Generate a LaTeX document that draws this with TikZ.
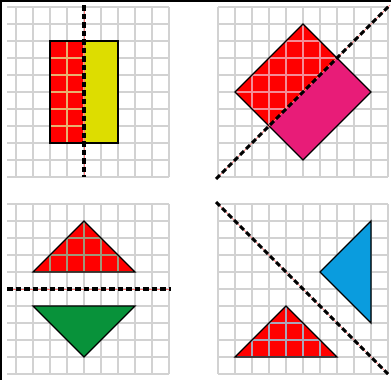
\documentclass[tikz,border=0pt]{standalone}
\definecolor{gridgray}{RGB}{210,210,210}
\definecolor{shred}{RGB}{255,0,0}
\definecolor{shyellow}{RGB}{221,221,0}
\definecolor{shpink}{RGB}{232,28,120}
\definecolor{shgreen}{RGB}{8,146,58}
\definecolor{shblue}{RGB}{10,156,222}
\definecolor{tintA}{RGB}{232,176,112}
\definecolor{tintB}{RGB}{244,140,150}
\definecolor{tintC}{RGB}{160,150,120}
\definecolor{tintD}{RGB}{170,165,185}
\begin{document}
\begin{tikzpicture}[x=1pt,y=-1pt,
  gridln/.style={draw=gridgray, line width=1.1pt},
  outl/.style={draw=black, line width=1.2pt, line join=miter},
  mirrorbase/.style={draw=red!55, line width=0.7pt},
  mirror/.style={draw=black, line width=3.1pt, dash pattern=on 5.5pt off 3pt}]
\useasboundingbox (0,0) rectangle (391,380);
\fill[white] (0,0) rectangle (391,380);
% ---------- grids ----------
\foreach \x in {16,33,...,169} \draw[gridln] (\x,7) -- (\x,177);
\foreach \y in {7,24,...,177} \draw[gridln] (7,\y) -- (169,\y);
\foreach \x in {218,235,...,388} \draw[gridln] (\x,7) -- (\x,177);
\foreach \y in {7,24,...,177} \draw[gridln] (218,\y) -- (388,\y);
\foreach \x in {16,33,...,169} \draw[gridln] (\x,204) -- (\x,374);
\foreach \y in {204,221,...,374} \draw[gridln] (7,\y) -- (169,\y);
\foreach \x in {218,235,...,388} \draw[gridln] (\x,204) -- (\x,374);
\foreach \y in {204,221,...,374} \draw[gridln] (218,\y) -- (388,\y);
% ---------- top left ----------
\fill[shred] (50,41) rectangle (84,143);
\begin{scope}
  \clip (50,41) rectangle (84,143);
  \foreach \x in {16,33,...,169} \draw[tintA, line width=1.1pt] (\x,7) -- (\x,177);
  \foreach \y in {7,24,...,177} \draw[tintA, line width=1.1pt] (7,\y) -- (169,\y);
\end{scope}
\fill[shyellow] (84,41) rectangle (118,143);
\draw[outl] (50,41) rectangle (118,143);
\coordinate (m1a) at (84,5);
\coordinate (m1b) at (84,177);
\draw[mirrorbase] (m1a) -- (m1b);
\draw[mirror] (m1a) -- (m1b);
% ---------- top right ----------
\fill[shred] (303,24) -- (235,92) -- (269,126) -- (337,58) -- cycle;
\begin{scope}
  \clip (303,24) -- (235,92) -- (269,126) -- (337,58) -- cycle;
  \foreach \x in {218,235,...,388} \draw[tintB, line width=1.1pt] (\x,7) -- (\x,177);
  \foreach \y in {7,24,...,177} \draw[tintB, line width=1.1pt] (218,\y) -- (388,\y);
\end{scope}
\fill[shpink] (337,58) -- (371,92) -- (303,160) -- (269,126) -- cycle;
\draw[outl] (303,24) -- (235,92) -- (303,160) -- (371,92) -- cycle;
\coordinate (m2a) at (216,179);
\coordinate (m2b) at (390,5);
\draw[mirrorbase] (m2a) -- (m2b);
\draw[mirror] (m2a) -- (m2b);
% ---------- bottom left ----------
\fill[shred] (84,221) -- (33,272) -- (135,272) -- cycle;
\begin{scope}
  \clip (84,221) -- (33,272) -- (135,272) -- cycle;
  \foreach \x in {16,33,...,169} \draw[tintC, line width=1.1pt] (\x,204) -- (\x,374);
  \foreach \y in {204,221,...,374} \draw[tintC, line width=1.1pt] (7,\y) -- (169,\y);
\end{scope}
\draw[outl] (84,221) -- (33,272) -- (135,272) -- cycle;
\fill[shgreen] (33,306) -- (135,306) -- (84,357) -- cycle;
\draw[outl] (33,306) -- (135,306) -- (84,357) -- cycle;
\coordinate (m3a) at (7,289);
\coordinate (m3b) at (171,289);
\draw[mirrorbase] (m3a) -- (m3b);
\draw[mirror] (m3a) -- (m3b);
% ---------- bottom right ----------
\fill[shred] (286,306) -- (235,357) -- (337,357) -- cycle;
\begin{scope}
  \clip (286,306) -- (235,357) -- (337,357) -- cycle;
  \foreach \x in {218,235,...,388} \draw[tintD, line width=1.1pt] (\x,204) -- (\x,374);
  \foreach \y in {204,221,...,374} \draw[tintD, line width=1.1pt] (218,\y) -- (388,\y);
\end{scope}
\draw[outl] (286,306) -- (235,357) -- (337,357) -- cycle;
\fill[shblue] (371,221) -- (320,272) -- (371,323) -- cycle;
\draw[outl] (371,221) -- (320,272) -- (371,323) -- cycle;
\coordinate (m4a) at (216,202);
\coordinate (m4b) at (388,374);
\draw[mirrorbase] (m4a) -- (m4b);
\draw[mirror] (m4a) -- (m4b);
% ---------- frame ----------
\draw[black, line width=2.4pt] (1.2,380) -- (1.2,1.2) -- (391,1.2);
\end{tikzpicture}
\end{document}
